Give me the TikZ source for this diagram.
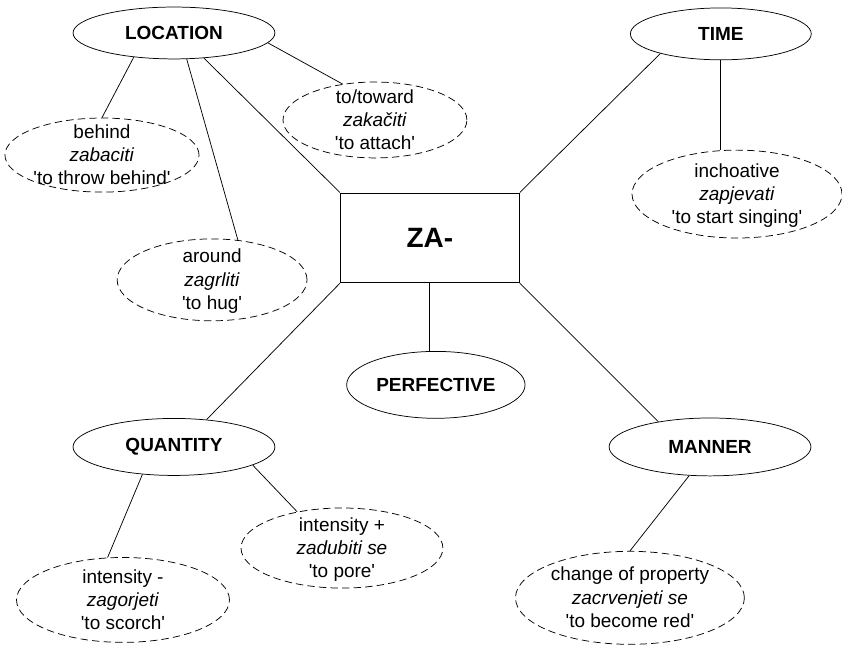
\documentclass[tikz,border=0pt]{standalone}
\usepackage{fontspec}
\setmainfont{Liberation Sans}
\usetikzlibrary{shapes.geometric}
\newcommand{\gloss}[1]{\textquotesingle#1\textquotesingle}

\begin{document}
\begin{tikzpicture}[
    font=\fontsize{18}{22}\selectfont,
    line width=0.7pt,
    cat/.style 2 args={draw, ellipse, font=\fontsize{18}{22}\selectfont\bfseries,
      minimum width=#1cm, minimum height=#2cm},
    sense/.style 2 args={draw, ellipse, dash pattern=on 7pt off 4pt, align=center,
      inner xsep=-1.5cm, inner ysep=-1cm, text height=56pt, text depth=0pt,
      minimum width=#1cm, minimum height=#2cm},
    root/.style={draw, rectangle, font=\fontsize{26.5}{30}\selectfont\bfseries,
      minimum width=5.97cm, minimum height=3cm}]
      \useasboundingbox (0,0) rectangle (28.07,21.6);
      \draw
        (14.33,13.67) node[root] (za){ZA-}
        (5.8,20.5) node[cat={6.73}{1.73}] (loc){LOCATION}
        (3.4,16.43) node[sense={6.47}{2.47}] (behind){behind\\\textit{zabaciti}\\\gloss{to throw behind}}
        (7.07,12.27) node[sense={6.33}{2.73}] (around){around\\\textit{zagrliti}\\\gloss{to hug}}
        (12.5,17.6) node[sense={6.13}{2.53}] (toward){to/toward\\\textit{zakačiti}\\\gloss{to attach}}
        (24.03,20.47) node[cat={6.03}{1.73}] (time){TIME}
        (24.57,15.13) node[sense={7}{2.93}] (inch){inchoative\\\textit{zapjevati}\\\gloss{to start singing}}
        (14.53,8.77) node[cat={5.6}{2.23}] (perf){PERFECTIVE}
        (5.8,6.7) node[cat={6.73}{1.9}] (quant){QUANTITY}
        (4.1,1.6) node[sense={7.1}{2.83}] (intm){intensity -\\\textit{zagorjeti}\\\gloss{to scorch}}
        (11.4,3.33) node[sense={6.73}{2.67}] (intp){intensity +\\\textit{zadubiti se}\\\gloss{to pore}}
        (23.67,6.7) node[cat={6.73}{1.93}] (manner){MANNER}
        (21,1.67) node[sense={7.63}{3.1}] (change){change of property\\\textit{zacrvenjeti se}\\\gloss{to become red}};
      \begin{scope}[-]
        \draw (loc.211) to (behind.north);
        \draw (loc.296) to (around.57);
        \draw (loc.354) to (toward.132);
        \draw (loc.320) to (za.north west);
        \draw (za.north east) to (time.198);
        \draw (time.south) to (time.south |- inch.north);
        \draw (za.south) to (za.south |- perf.north);
        \draw (za.south west) to (quant.40);
        \draw (quant.221) to (intm.110);
        \draw (quant.347) to (intp.141);
        \draw (za.south east) to (manner.154);
        \draw (manner.234) to (change.north);
      \end{scope}
    \end{tikzpicture}
\end{document}
